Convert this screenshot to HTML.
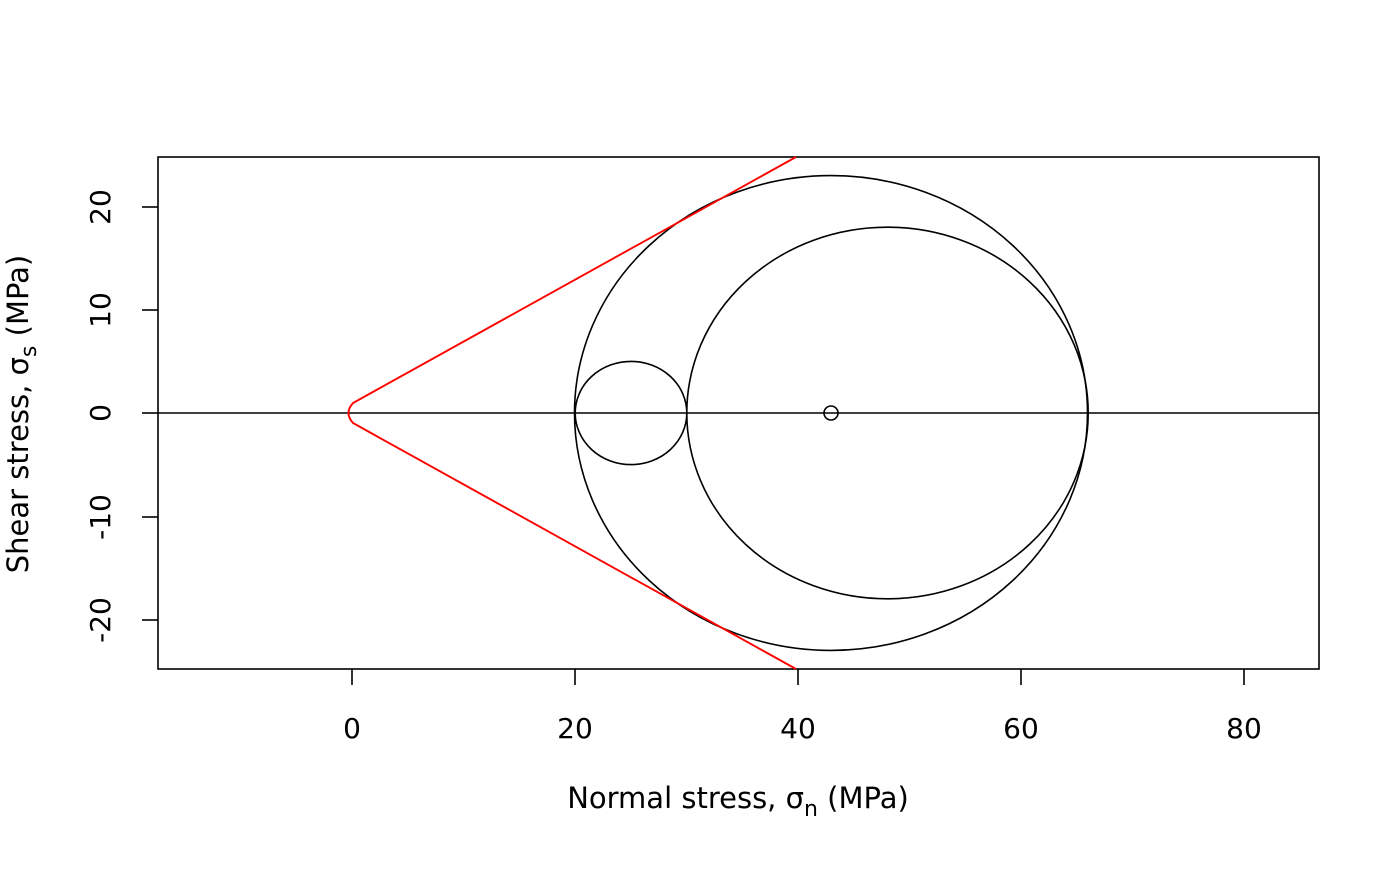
<!DOCTYPE html>
<html><head><style>body{margin:0;background:#fff}</style></head><body>
<svg width="1400" height="866" xmlns="http://www.w3.org/2000/svg" font-family="DejaVu Sans, sans-serif" font-size="28">
<rect x="158" y="157" width="1161" height="512" fill="none" stroke="#000" stroke-width="1.6"/>
<line x1="158" y1="413" x2="1319" y2="413" stroke="#000" stroke-width="1.6"/>
<g fill="none" stroke="#000" stroke-width="1.6">
<ellipse cx="831" cy="413" rx="256.5" ry="237.4"/>
<ellipse cx="887.5" cy="413" rx="200.7" ry="185.8"/>
<ellipse cx="631" cy="413" rx="55.8" ry="51.6"/>
<circle cx="831" cy="413" r="7"/>
</g>
<path d="M796 157 L353 403 Q344 413 353 423 L796 669" fill="none" stroke="#f00" stroke-width="1.9"/>
<g stroke="#000" stroke-width="1.6">
<line x1="352" y1="669" x2="352" y2="685"/><line x1="575" y1="669" x2="575" y2="685"/><line x1="798" y1="669" x2="798" y2="685"/><line x1="1021" y1="669" x2="1021" y2="685"/><line x1="1244" y1="669" x2="1244" y2="685"/>
<line x1="142" y1="207" x2="158" y2="207"/><line x1="142" y1="310" x2="158" y2="310"/><line x1="142" y1="413" x2="158" y2="413"/><line x1="142" y1="517" x2="158" y2="517"/><line x1="142" y1="620" x2="158" y2="620"/>
</g>
<g text-anchor="middle">
<text x="352" y="738">0</text><text x="575" y="738">20</text><text x="798" y="738">40</text><text x="1021" y="738">60</text><text x="1244" y="738">80</text>
<text transform="translate(110,207) rotate(-90)">20</text>
<text transform="translate(110,310) rotate(-90)">10</text>
<text transform="translate(110,413) rotate(-90)">0</text>
<text transform="translate(110,517) rotate(-90)">-10</text>
<text transform="translate(110,620) rotate(-90)">-20</text>
<text x="738" y="808" font-size="29">Normal stress, σ<tspan font-size="22" dy="8">n</tspan><tspan dy="-8"> (MPa)</tspan></text>
<text transform="translate(28,414) rotate(-90)" font-size="29">Shear stress, σ<tspan font-size="22" dy="8">s</tspan><tspan dy="-8"> (MPa)</tspan></text>
</g>
</svg>
</body></html>
